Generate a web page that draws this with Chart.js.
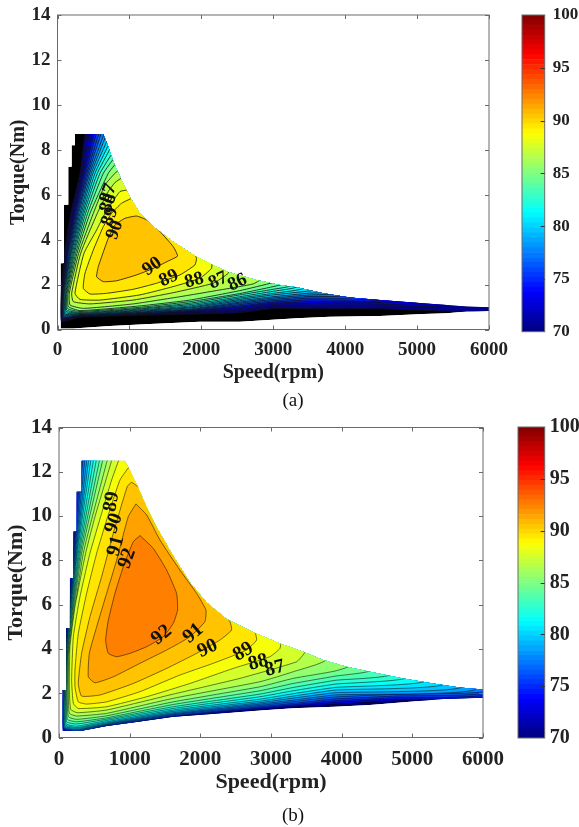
<!DOCTYPE html>
<html>
<head>
<meta charset="utf-8">
<title>Efficiency maps</title>
<script src="https://cdn.jsdelivr.net/npm/chart.js@4"></script>
<style>
    html, body { margin: 0; padding: 0; background: #fff; }
    #page { position: relative; width: 579px; height: 827px; overflow: hidden; }
    canvas { position: absolute; display: block; filter: blur(0.35px); }
    .caption { position: absolute; font-family: "Liberation Serif", serif; color: #111; transform: translate(-50%, -50%); }
</style>
</head>
<body>
<div id="page">
    <canvas id="mapA" width="515" height="385" style="left:0;top:0"></canvas>
    <canvas id="barA" width="64" height="350" style="left:515px;top:0"></canvas>
    <canvas id="mapB" width="510" height="384" style="left:0;top:412px"></canvas>
    <canvas id="barB" width="69" height="345" style="left:510px;top:412px"></canvas>
    <div class="caption" style="left:293px;top:400px;font-size:19px">(a)</div>
    <div class="caption" style="left:293px;top:815px;font-size:19px">(b)</div>
</div>
<script>
// AXIS VALUES
const speedTicks = [0, 1000, 2000, 3000, 4000, 5000, 6000]
const torqueTicks = [0, 2, 4, 6, 8, 10, 12, 14]
const colorbarTicks = [70, 75, 80, 85, 90, 95, 100]

// MAP (a): OPERATING AREA, [speed, torque]
const outlineA = [[243,8.7],[637,8.7],[706,8.15],[785,7.4],[891,6.65],[1007,5.9],[1146,5.17],[1331,4.58],[1609,3.91],[1933,3.24],[2350,2.58],[2767,2.2],[3091,1.98],[3326,1.88],[3697,1.61],[4068,1.43],[4485,1.31],[4948,1.2],[5412,1.09],[5690,1.02],[6000,0.99],[6000,0.82],[5690,0.8],[5412,0.72],[5087,0.69],[4485,0.6],[3789,0.57],[3326,0.5],[2535,0.35],[1979,0.35],[1285,0.25],[729,0.16],[220,0.05],[44,0.05],[44,2.95],[90,2.95],[90,5.55],[150,5.55],[150,7.25],[197,7.25],[197,8.2],[243,8.2]]

// MAP (a): CONTOURS, [speed, torque]
const contourA90 = [[567,2.8],[614,3.24],[706,4.06],[799,4.65],[938,4.95],[1100,5.05],[1239,4.88],[1424,4.36],[1609,3.69],[1669,3.27],[1540,3.05],[1331,2.72],[1100,2.43],[822,2.17],[637,2.13],[544,2.35]]
const contourA89 = [[1077,5.91],[891,5.62],[752,5.17],[637,4.58],[498,3.54],[382,2.5],[359,1.83],[452,1.58],[683,1.61],[1053,1.79],[1378,2.06],[1702,2.43],[1910,2.87],[1933,3.17],[1887,3.47]]
const contourA88 = [[970,6.21],[868,6.14],[752,5.62],[660,5.17],[544,4.43],[368,3.39],[243,1.61],[313,1.34],[590,1.31],[1146,1.54],[1609,1.91],[1979,2.28],[2141,2.72],[2141,3.02]]
const contourA87 = [[915,6.8],[799,6.54],[706,6.14],[553,5.17],[322,3.39],[197,1.61],[220,1.24],[452,1.14],[1053,1.31],[1609,1.64],[2165,2.06],[2373,2.5],[2373,2.72]]
const contourA86 = [[868,7.1],[813,7.0],[660,6.43],[498,5.17],[294,3.39],[164,1.61],[174,1.09],[359,0.94],[1053,1.14],[1702,1.46],[2257,1.76],[2720,2.03],[2836,2.28]]
const contourA85 = [[831,7.47],[706,6.95],[452,5.17],[271,3.39],[146,1.61],[151,1.02],[313,0.84],[1146,1.05],[1841,1.31],[2535,1.73],[2998,2.09],[3067,2.2]]
const contourA84 = [[803,7.7],[637,6.95],[419,5.17],[252,3.39],[132,1.61],[137,0.94],[313,0.8],[1146,0.99],[1841,1.24],[2535,1.6],[2998,1.91],[3150,2.06]]
const contourA83 = [[776,7.92],[590,6.95],[391,5.17],[234,3.39],[123,1.61],[127,0.87],[313,0.76],[1146,0.94],[1841,1.17],[2535,1.54],[2998,1.79],[3250,1.98]]
const contourA82 = [[748,8.14],[553,6.95],[368,5.17],[220,3.39],[114,1.61],[118,0.81],[313,0.74],[1146,0.91],[1841,1.11],[2535,1.46],[2998,1.7],[3350,1.95]]
const contourA81 = [[725,8.32],[521,6.95],[350,5.17],[206,3.39],[104,1.61],[109,0.75],[313,0.71],[1146,0.87],[1841,1.05],[2535,1.4],[2998,1.61],[3450,1.9]]
const contourA80 = [[702,8.5],[493,6.95],[331,5.17],[192,3.39],[95,1.61],[100,0.69],[313,0.69],[1146,0.84],[1841,1.0],[2535,1.34],[2998,1.54],[3507,1.72],[3600,1.8]]
const contourA79 = [[678,8.66],[470,6.95],[313,5.17],[183,3.39],[90,1.61],[95,0.65],[313,0.68],[1146,0.81],[1841,0.96],[2535,1.28],[2998,1.46],[3507,1.62],[3720,1.68]]
const contourA78 = [[660,8.81],[447,6.95],[294,5.17],[174,3.39],[86,1.61],[90,0.6],[313,0.66],[1146,0.78],[1841,0.91],[2535,1.22],[2998,1.4],[3507,1.54],[3850,1.62]]
const contourA77 = [[623,8.88],[428,6.95],[280,5.17],[160,3.39],[81,1.61],[86,0.57],[313,0.65],[1146,0.76],[1841,0.88],[2535,1.17],[2998,1.34],[3507,1.47],[4000,1.55]]
const contourA76 = [[590,8.88],[410,6.95],[266,5.17],[151,3.39],[76,1.61],[81,0.54],[313,0.63],[1146,0.74],[1841,0.85],[2535,1.11],[2998,1.28],[3507,1.4],[4150,1.48]]
const contourA75 = [[553,8.88],[391,6.95],[252,5.17],[141,3.39],[72,1.61],[76,0.51],[313,0.62],[1146,0.71],[1841,0.83],[2535,1.05],[2998,1.22],[3507,1.32],[4320,1.42]]
const contourA74 = [[521,8.88],[373,6.95],[239,5.17],[132,3.39],[67,1.61],[72,0.48],[313,0.6],[1146,0.69],[1841,0.8],[2535,1.0],[2998,1.17],[3507,1.24],[4500,1.38]]
const contourA73 = [[489,8.88],[354,6.95],[225,5.17],[123,3.39],[63,1.61],[67,0.45],[313,0.59],[1146,0.68],[1841,0.77],[2535,0.93],[2998,1.11],[3507,1.16],[4485,1.2],[4750,1.32]]
const contourA72 = [[452,8.88],[340,6.95],[211,5.17],[114,3.39],[58,1.61],[63,0.42],[313,0.57],[1146,0.66],[1841,0.74],[2535,0.87],[2998,1.05],[3507,1.09],[4485,1.1],[5000,1.25]]
const contourA71 = [[419,8.88],[327,6.95],[197,5.17],[104,3.39],[53,1.61],[58,0.39],[313,0.56],[1146,0.65],[1841,0.71],[2535,0.81],[2998,0.99],[3507,1.0],[4485,1.0],[5400,1.15]]
const contourA70 = [[387,8.88],[313,6.95],[183,5.17],[95,3.39],[49,1.61],[53,0.36],[313,0.54],[1146,0.63],[1841,0.68],[2535,0.75],[2998,0.93],[3507,0.92],[4485,0.92],[5400,0.82],[6100,0.88]]

const levelsA = [90, 89, 88, 87, 86, 85, 84, 83, 82, 81, 80, 79, 78, 77, 76, 75, 74, 73, 72, 71, 70]
const contoursA = [contourA90, contourA89, contourA88, contourA87, contourA86, contourA85, contourA84, contourA83, contourA82, contourA81, contourA80, contourA79, contourA78, contourA77, contourA76, contourA75, contourA74, contourA73, contourA72, contourA71, contourA70]

// MAP (a): CONTOUR LABELS
const labelTextA = ['87', '88', '89', '90', '90', '89', '88', '87', '86']
const labelSpeedA = [706, 706, 729, 799, 1317, 1549, 1901, 2234, 2503]
const labelTorqueA = [6.06, 5.62, 5.02, 4.43, 2.8, 2.28, 2.18, 2.18, 2.09]

// MAP (b): OPERATING AREA, [speed, torque]
const outlineB = [[320,12.5],[933,12.5],[1004,12.08],[1146,11.1],[1240,10.4],[1381,9.5],[1617,8.2],[1853,7.0],[2089,6.1],[2371,5.35],[2749,4.75],[3126,4.25],[3456,3.87],[3739,3.5],[4069,3.2],[4399,2.97],[4870,2.67],[5295,2.44],[5672,2.26],[6000,2.17],[6000,1.8],[5436,1.74],[4965,1.62],[4399,1.47],[3904,1.39],[3314,1.32],[2843,1.22],[2183,1.06],[1617,0.94],[1146,0.72],[674,0.52],[320,0.3],[52,0.3],[52,2.14],[99,2.14],[99,4.93],[155,4.93],[155,7.19],[203,7.19],[203,9.3],[250,9.3],[250,11.1],[320,11.1]]

// MAP (b): CONTOURS, [speed, torque]
const contourB92 = [[1146,9.12],[1334,8.54],[1523,7.56],[1664,6.51],[1678,5.76],[1617,5.15],[1476,4.55],[1240,4.1],[1004,3.8],[815,3.65],[698,3.8],[660,4.4],[698,5.3],[792,6.51],[910,7.71],[1051,8.84]]
const contourB91 = [[1089,10.55],[1240,10.05],[1428,8.92],[1711,7.56],[1947,6.51],[2079,5.76],[2065,5.23],[1853,4.55],[1523,3.95],[1146,3.35],[768,2.74],[509,2.47],[415,2.74],[429,3.8],[533,5.0],[674,6.51],[815,8.0],[980,9.97]]
const contourB90 = [[1202,11.1],[1028,11.52],[966,11.33],[768,9.22],[603,7.26],[438,5.45],[320,3.8],[273,2.44],[320,1.87],[580,1.92],[1051,2.44],[1523,3.12],[1947,3.8],[2277,4.4],[2442,4.85],[2419,5.23],[2301,5.76]]
const contourB89 = [[1028,12.38],[863,11.63],[674,9.82],[533,8.32],[391,6.51],[273,4.7],[226,3.05],[226,2.29],[273,1.61],[391,1.51],[674,1.61],[1146,2.07],[1711,2.82],[2183,3.35],[2654,3.95],[2796,4.4],[2772,4.85],[2796,5.08]]
const contourB88 = [[872,12.76],[745,11.63],[603,10.12],[438,8.32],[297,6.36],[203,4.55],[179,2.59],[203,1.54],[273,1.31],[674,1.39],[1240,1.84],[1853,2.44],[2466,3.12],[2985,3.65],[3126,4.02],[3135,4.4]]
const contourB87 = [[768,12.76],[650,11.48],[509,9.97],[377,8.32],[226,5.91],[155,4.1],[146,2.29],[165,1.27],[259,1.12],[674,1.24],[1617,1.96],[2560,2.67],[3362,3.42],[3470,3.8],[3503,4.1]]
const contourB86 = [[702,12.76],[344,8.32],[141,3.8],[132,2.14],[146,1.09],[250,0.97],[674,1.09],[1617,1.77],[2843,2.52],[3314,2.97],[3786,3.57]]
const contourB85 = [[636,12.76],[320,8.32],[132,3.8],[118,1.99],[132,0.94],[250,0.82],[674,0.98],[1617,1.61],[2843,2.29],[3314,2.67],[3904,3.0],[4116,3.27]]
const contourB84 = [[589,12.76],[302,8.32],[127,3.8],[108,1.69],[118,0.82],[250,0.71],[674,0.89],[1617,1.49],[2843,2.11],[3314,2.44],[3904,2.77],[4422,3.08]]
const contourB83 = [[542,12.76],[287,8.32],[122,3.8],[99,1.54],[108,0.71],[250,0.61],[674,0.83],[1617,1.39],[2843,1.96],[3314,2.26],[3904,2.58],[4705,2.9]]
const contourB82 = [[500,12.76],[273,8.32],[118,3.8],[89,1.39],[99,0.62],[250,0.51],[674,0.77],[1617,1.31],[2843,1.84],[3314,2.11],[3904,2.41],[4941,2.78]]
const contourB81 = [[462,12.76],[259,8.32],[113,3.8],[80,1.24],[89,0.56],[250,0.45],[674,0.71],[1617,1.24],[2843,1.73],[3314,1.98],[3904,2.26],[5200,2.63]]
const contourB80 = [[429,12.76],[250,8.32],[108,3.8],[70,1.09],[85,0.5],[250,0.41],[674,0.66],[1617,1.18],[2843,1.64],[3314,1.87],[3904,2.14],[5460,2.49]]
const contourB79 = [[401,12.76],[240,8.32],[103,3.8],[66,0.94],[80,0.45],[250,0.36],[674,0.62],[1617,1.12],[2843,1.57],[3314,1.78],[3904,2.02],[5719,2.37]]
const contourB78 = [[372,12.76],[231,8.32],[99,3.8],[61,0.79],[75,0.41],[250,0.33],[674,0.59],[1617,1.07],[2843,1.51],[3314,1.69],[3904,1.92],[5908,2.26]]
const contourB77 = [[344,12.76],[221,8.32],[94,3.8],[56,0.64],[250,0.3],[674,0.56],[1617,1.03],[2843,1.45],[3314,1.62],[3904,1.83],[4729,1.95],[6096,2.2]]
const contourB76 = [[316,12.76],[212,8.32],[89,3.8],[52,0.56],[250,0.27],[674,0.53],[1617,0.98],[2843,1.39],[3314,1.54],[3904,1.74],[4729,1.87],[6096,2.12]]
const contourB75 = [[287,12.76],[203,8.32],[80,3.8],[42,0.48],[250,0.24],[674,0.5],[1617,0.95],[2843,1.34],[3314,1.48],[3904,1.66],[4729,1.8],[6096,2.03]]
const contourB74 = [[226,12.76],[179,8.32],[70,3.8],[33,0.41],[250,0.21],[674,0.47],[1617,0.92],[2843,1.3],[3314,1.42],[3904,1.59],[4729,1.73],[6096,1.95]]
const contourB73 = [[155,12.76],[155,8.32],[61,3.8],[23,0.33],[250,0.18],[674,0.44],[1617,0.89],[2843,1.25],[3314,1.38],[3904,1.51],[4729,1.66],[6100,1.87]]

const levelsB = [92, 91, 90, 89, 88, 87, 86, 85, 84, 83, 82, 81, 80, 79, 78, 77, 76, 75, 74, 73]
const contoursB = [contourB92, contourB91, contourB90, contourB89, contourB88, contourB87, contourB86, contourB85, contourB84, contourB83, contourB82, contourB81, contourB80, contourB79, contourB78, contourB77, contourB76, contourB75, contourB74, contourB73]

// MAP (b): CONTOUR LABELS
const labelTextB = ['89', '90', '91', '92', '92', '91', '90', '89', '88', '87']
const labelSpeedB = [745, 778, 806, 966, 1452, 1900, 2103, 2607, 2819, 3055]
const labelTorqueB = [10.65, 9.67, 8.65, 8.09, 4.63, 4.7, 4.02, 3.87, 3.39, 3.12]

const serif = '"Liberation Serif", serif'
const textColor = '#222'
const axisColor = '#6a6a6a'

// JET COLORMAP, t FROM 0 TO 1
function jet(t) {
    const ramp = v => Math.round(255 * Math.max(0, Math.min(1, v)))
    return `rgb(${ramp(1.5 - Math.abs(4 * t - 3))},${ramp(1.5 - Math.abs(4 * t - 2))},${ramp(1.5 - Math.abs(4 * t - 1))})`
}

// THE BAND ABOVE A CONTOUR TAKES THE COLOR OF ITS MIDDLE
function levelColor(level) {
    return jet((level + 0.5 - 70) / 30)
}

function toPoints(pairs) {
    return pairs.map(p => ({ x: p[0], y: p[1] }))
}

// FIXES THE AXIS BOX, SO THE PLOT AREA STAYS WHERE THE FIGURE HAS IT
function fixAxisBox(axis, size) {
    if (axis.isHorizontal()) axis.height = size
    else axis.width = size
    axis.paddingLeft = 0
    axis.paddingRight = 0
    axis.paddingTop = 0
    axis.paddingBottom = 0
}

// FRAME AND INWARD TICKS
function drawFrame(chart, xValues, yValues, yColor, leftTicks) {
    const { ctx, chartArea, scales } = chart
    const len = 4
    ctx.save()
    ctx.lineWidth = 1
    ctx.strokeStyle = axisColor
    ctx.strokeRect(chartArea.left, chartArea.top, chartArea.width, chartArea.height)
    ctx.strokeStyle = yColor
    ctx.beginPath()
    xValues.forEach(v => {
        const px = Math.round(scales.x.getPixelForValue(v)) + 0.5
        ctx.moveTo(px, chartArea.bottom)
        ctx.lineTo(px, chartArea.bottom - len)
        ctx.moveTo(px, chartArea.top)
        ctx.lineTo(px, chartArea.top + len)
    })
    yValues.forEach(v => {
        const py = Math.round(scales.y.getPixelForValue(v)) + 0.5
        ctx.moveTo(chartArea.right, py)
        ctx.lineTo(chartArea.right - len, py)
        if (leftTicks) {
            ctx.moveTo(chartArea.left, py)
            ctx.lineTo(chartArea.left + len, py)
        }
    })
    ctx.stroke()
    ctx.restore()
}

function mapAxis(position, min, max, values, options) {
    const labelled = position === 'left' || position === 'bottom'
    return {
        type: 'linear',
        position: position,
        min: min,
        max: max,
        afterBuildTicks: axis => { axis.ticks = values.map(v => ({ value: v })) },
        afterFit: axis => fixAxisBox(axis, options.size),
        grid: { display: false, drawTicks: false },
        border: { display: false },
        ticks: {
            display: labelled,
            autoSkip: false,
            maxRotation: 0,
            color: textColor,
            padding: options.gap,
            callback: v => String(v),
            font: { family: serif, weight: 'bold', size: options.tickSize }
        },
        title: {
            display: labelled,
            text: options.title,
            color: textColor,
            padding: options.titlePadding,
            font: { family: serif, weight: 'bold', size: options.titleSize }
        }
    }
}

function makeMap(canvasId, outline, levels, contours, labels, sizes) {
    const datasets = contours.map((pairs, i) => ({
        data: toPoints(pairs.concat([pairs[0]])),
        showLine: true,
        fill: 'shape',
        tension: 0.15,
        pointRadius: 0,
        borderWidth: sizes.lineWidth,
        borderColor: sizes.lineColor,
        backgroundColor: levelColor(levels[i])
    }))
    datasets.push({
        data: toPoints(outline),
        showLine: true,
        fill: 'shape',
        pointRadius: 0,
        borderWidth: 0,
        backgroundColor: sizes.outlineColor
    })

    // EVERYTHING IS CUT BY THE OPERATING AREA
    const areaClip = {
        id: 'areaClip',
        beforeDatasetsDraw(chart) {
            const { ctx, scales } = chart
            ctx.save()
            ctx.beginPath()
            outline.forEach((p, i) => {
                const px = scales.x.getPixelForValue(p[0])
                const py = scales.y.getPixelForValue(p[1])
                if (i === 0) ctx.moveTo(px, py)
                else ctx.lineTo(px, py)
            })
            ctx.closePath()
            ctx.clip()
        },
        afterDatasetsDraw(chart) {
            const { ctx, scales } = chart
            ctx.restore()

            drawFrame(chart, speedTicks, torqueTicks, axisColor, true)

            // CONTOUR LABELS
            ctx.save()
            ctx.fillStyle = '#111'
            ctx.font = `bold ${sizes.labelSize}px ${serif}`
            ctx.textAlign = 'center'
            ctx.textBaseline = 'middle'
            labels.text.forEach((txt, i) => {
                ctx.save()
                ctx.translate(scales.x.getPixelForValue(labels.speed[i]), scales.y.getPixelForValue(labels.torque[i]))
                ctx.rotate(sizes.labelAngles[i] * Math.PI / 180)
                ctx.fillText(txt, 0, 0)
                ctx.restore()
            })
            ctx.restore()
        }
    }

    return new Chart(document.getElementById(canvasId), {
        type: 'scatter',
        data: { datasets: datasets },
        plugins: [areaClip],
        options: {
            responsive: false,
            animation: false,
            events: [],
            layout: { padding: 0 },
            plugins: { legend: { display: false }, tooltip: { enabled: false } },
            scales: {
                x: mapAxis('bottom', 0, 6000, speedTicks, { size: sizes.bottom, gap: sizes.xGap, tickSize: sizes.tickSize, title: 'Speed(rpm)', titleSize: sizes.titleSize, titlePadding: { top: 0, bottom: 0 } }),
                y: mapAxis('left', 0, 14, torqueTicks, { size: sizes.left, gap: sizes.yGap, tickSize: sizes.tickSize, title: 'Torque(Nm)', titleSize: sizes.titleSize, titlePadding: { top: sizes.yTitleTop, bottom: 0 } }),
                xTop: mapAxis('top', 0, 6000, speedTicks, { size: sizes.top }),
                yRight: mapAxis('right', 0, 14, torqueTicks, { size: sizes.right })
            }
        }
    })
}

// COLORBAR: 64 STEPS OF THE COLORMAP STACKED FROM 70 TO 100
function makeColorbar(canvasId, sizes) {
    const steps = 64
    const datasets = []
    for (let i = 0; i < steps; i++) {
        datasets.push({
            data: [30 / steps],
            backgroundColor: jet((i + 0.5) / steps),
            borderWidth: 0,
            categoryPercentage: 1,
            barPercentage: 1
        })
    }
    datasets[0].data = [70 + 30 / steps]

    const frame = {
        id: 'frame',
        afterDatasetsDraw(chart) {
            drawFrame(chart, [], colorbarTicks.slice(1, -1), '#333', false)
        }
    }

    return new Chart(document.getElementById(canvasId), {
        type: 'bar',
        data: { labels: [''], datasets: datasets },
        plugins: [frame],
        options: {
            responsive: false,
            animation: false,
            events: [],
            layout: { padding: { left: sizes.left, top: sizes.top, bottom: sizes.bottom } },
            plugins: { legend: { display: false }, tooltip: { enabled: false } },
            scales: {
                x: { display: false, stacked: true },
                y: {
                    position: 'right',
                    stacked: true,
                    min: 70,
                    max: 100,
                    afterBuildTicks: axis => { axis.ticks = colorbarTicks.map(v => ({ value: v })) },
                    afterFit: axis => fixAxisBox(axis, sizes.right),
                    grid: { display: false, drawTicks: false },
                    border: { display: false },
                    ticks: {
                        color: textColor,
                        padding: sizes.gap,
                        font: { family: serif, weight: 'bold', size: sizes.tickSize }
                    }
                }
            }
        }
    })
}

makeMap('mapA', outlineA, levelsA, contoursA,
    { text: labelTextA, speed: labelSpeedA, torque: labelTorqueA },
    {
        top: 15, bottom: 55.5, left: 57.5, right: 26,
        xGap: 9, yGap: 7, yTitleTop: 7,
        tickSize: 19, titleSize: 20, labelSize: 19, lineWidth: 0.8, lineColor: '#111',
        outlineColor: '#000',
        labelAngles: [-70, -70, -70, -70, -35, -25, -15, -25, -25]
    })

makeMap('mapB', outlineB, levelsB, contoursB,
    { text: labelTextB, speed: labelSpeedB, torque: labelTorqueB },
    {
        top: 15.5, bottom: 58.5, left: 59, right: 27,
        xGap: 9, yGap: 7, yTitleTop: 3,
        tickSize: 21, titleSize: 22, labelSize: 20, lineWidth: 0.7, lineColor: 'rgba(0,0,0,0.75)',
        outlineColor: '#000060',
        labelAngles: [-80, -70, -75, -70, -40, -40, -25, -30, -15, -15]
    })

makeColorbar('barA', { left: 7, top: 15, bottom: 18.3, right: 34.3, gap: 8, tickSize: 17 })
makeColorbar('barB', { left: 8, top: 15, bottom: 19, right: 34.3, gap: 5, tickSize: 20 })
</script>
</body>
</html>
